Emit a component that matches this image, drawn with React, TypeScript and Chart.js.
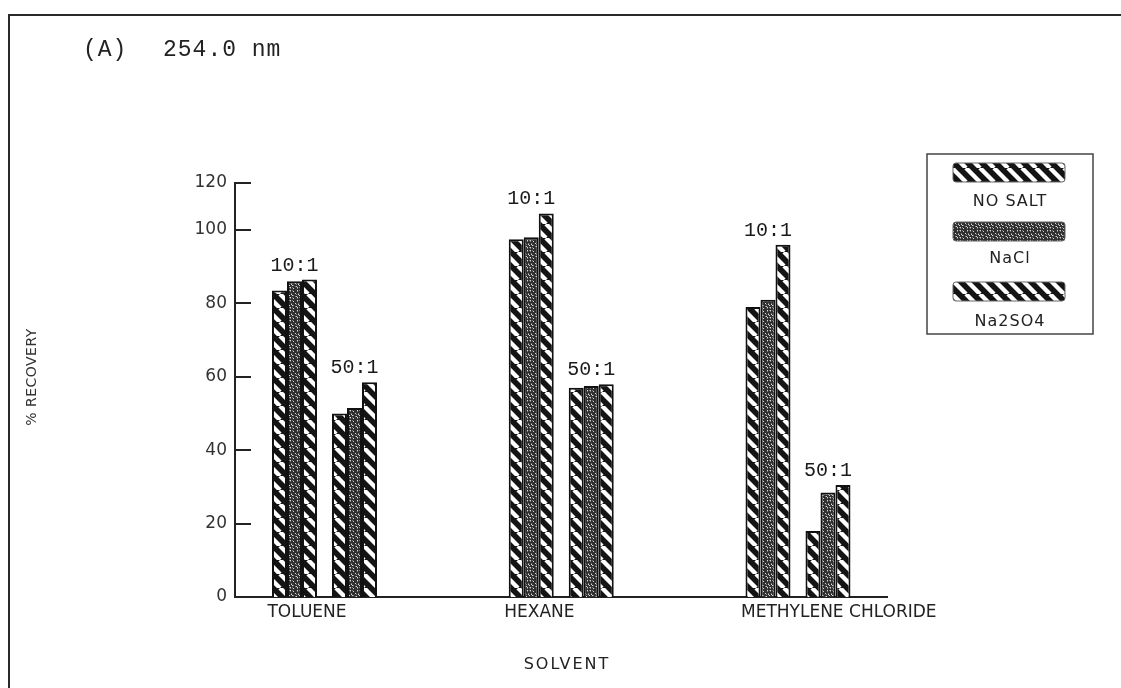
import React, { useEffect, useRef } from 'react';
import { Chart, registerables } from 'chart.js';

Chart.register(...registerables);

// ---- data ----
const SOLVENTS = ['TOLUENE', 'HEXANE', 'METHYLENE CHLORIDE'];
const SALTS = ['NO SALT', 'NaCl', 'Na2SO4'];
const RATIOS = ['10:1', '50:1'];

const NO_SALT_10 = [83.5, 97.5, 79];
const NACL_10 = [86, 98, 81];
const NA2SO4_10 = [86.5, 104.5, 96];

const NO_SALT_50 = [50, 57, 18];
const NACL_50 = [51.5, 57.5, 28.5];
const NA2SO4_50 = [58.5, 58, 30.5];

const Y_TICKS = [0, 20, 40, 60, 80, 100];
const Y_TOP_LABEL = '120';
const Y_MAX = 112.8;
const X_MIN = -0.378;
const X_MAX = 2.376;

const TITLE_A = '(A)';
const TITLE_B = '254.0 nm';
const Y_TITLE = '% RECOVERY';
const X_TITLE = 'SOLVENT';

const PLOT_FONT = '"DejaVu Sans", sans-serif';
const MONO_FONT = '"Liberation Mono", "DejaVu Sans Mono", monospace';

function makeHatch(): CanvasPattern {
  const s = 14;
  const c = document.createElement('canvas');
  c.width = s;
  c.height = s;
  const g = c.getContext('2d')!;
  g.fillStyle = '#141414';
  g.fillRect(0, 0, s, s);
  g.strokeStyle = '#ffffff';
  g.lineWidth = 4.4;
  for (const x0 of [-s, 0, s]) {
    g.beginPath();
    g.moveTo(x0, 0);
    g.lineTo(x0 + s, s);
    g.stroke();
  }
  return g.createPattern(c, 'repeat')!;
}

function makeStipple(): CanvasPattern {
  const s = 10;
  const c = document.createElement('canvas');
  c.width = s;
  c.height = s;
  const g = c.getContext('2d')!;
  g.fillStyle = '#303030';
  g.fillRect(0, 0, s, s);
  for (let x = 0; x < s; x++) {
    for (let y = 0; y < s; y++) {
      const v = (x * 5 + y * 3 + x * y) % 7;
      if (v === 0) {
        g.fillStyle = '#d8d8d8';
        g.fillRect(x, y, 1, 1);
      } else if (v === 3) {
        g.fillStyle = '#7a7a7a';
        g.fillRect(x, y, 1, 1);
      }
    }
  }
  return g.createPattern(c, 'repeat')!;
}

export default function App() {
  const ref = useRef<HTMLCanvasElement>(null);

  useEffect(() => {
    const canvas = ref.current!;
    const hatch = makeHatch();
    const stipple = makeStipple();
    const fills = [hatch, stipple, hatch];

    const toPoints = (arr: (number | null)[]) => arr.map((y, i) => ({ x: i, y }));
    const series10 = [NO_SALT_10, NACL_10, NA2SO4_10];
    const series50 = [NO_SALT_50, NACL_50, NA2SO4_50];

    const datasets: any[] = [
      ...series10.map((s, k) => ({
        label: `${SALTS[k]} ${RATIOS[0]}`,
        data: toPoints(s),
        backgroundColor: fills[k],
      })),
      { label: 'gap', data: toPoints(SOLVENTS.map(() => null)), backgroundColor: 'rgba(0,0,0,0)' },
      ...series50.map((s, k) => ({
        label: `${SALTS[k]} ${RATIOS[1]}`,
        data: toPoints(s),
        backgroundColor: fills[k],
      })),
    ];

    const decor = {
      id: 'decor',
      beforeDraw(chart: any) {
        const ctx = chart.ctx as CanvasRenderingContext2D;
        ctx.save();
        ctx.fillStyle = '#ffffff';
        ctx.fillRect(0, 0, chart.width, chart.height);
        // frame
        ctx.strokeStyle = '#2a2a2a';
        ctx.lineWidth = 2;
        ctx.beginPath();
        ctx.moveTo(9, chart.height);
        ctx.lineTo(9, 15);
        ctx.lineTo(chart.width, 15);
        ctx.stroke();
        // title
        ctx.fillStyle = '#222';
        ctx.font = `23px ${MONO_FONT}`;
        ctx.textBaseline = 'middle';
        ctx.textAlign = 'left';
        (ctx as any).letterSpacing = '1px';
        ctx.fillText(TITLE_A, 83, 50);
        ctx.fillText(TITLE_B, 163, 50);
        ctx.restore();
      },
      afterDraw(chart: any) {
        const ctx = chart.ctx as CanvasRenderingContext2D;
        const yScale = chart.scales.y;
        const area = chart.chartArea;
        ctx.save();
        // inward ticks
        ctx.strokeStyle = '#222';
        ctx.lineWidth = 2;
        for (const t of yScale.ticks) {
          if (t.value <= 0) continue;
          const py = Math.round(yScale.getPixelForValue(t.value));
          ctx.beginPath();
          ctx.moveTo(area.left, py);
          ctx.lineTo(area.left + 16, py);
          ctx.stroke();
        }
        // ratio labels
        ctx.fillStyle = '#1a1a1a';
        ctx.font = `20px ${MONO_FONT}`;
        ctx.textAlign = 'center';
        ctx.textBaseline = 'alphabetic';
        const groups = [[0, 1, 2], [4, 5, 6]];
        SOLVENTS.forEach((_, i) => {
          groups.forEach((idxs, r) => {
            let minY = Infinity;
            for (const d of idxs) {
              const el = chart.getDatasetMeta(d).data[i];
              if (el) minY = Math.min(minY, el.y);
            }
            const mid = chart.getDatasetMeta(idxs[1]).data[i];
            if (mid && isFinite(minY)) ctx.fillText(RATIOS[r], mid.x, minY - 9);
          });
        });
        // y title
        ctx.save();
        ctx.translate(32, 377);
        ctx.rotate(-Math.PI / 2);
        ctx.font = `14px ${PLOT_FONT}`;
        ctx.fillStyle = '#333';
        ctx.textAlign = 'center';
        ctx.textBaseline = 'middle';
        (ctx as any).letterSpacing = '0.5px';
        ctx.fillText(Y_TITLE, 0, 0);
        ctx.restore();
        // x title
        ctx.font = `16px ${PLOT_FONT}`;
        ctx.fillStyle = '#222';
        ctx.textAlign = 'center';
        ctx.textBaseline = 'middle';
        (ctx as any).letterSpacing = '2px';
        ctx.fillText(X_TITLE, (area.left + area.right) / 2 + 6, 665);
        (ctx as any).letterSpacing = '0px';
        // legend
        ctx.strokeStyle = '#444';
        ctx.lineWidth = 1.5;
        ctx.strokeRect(927, 154, 166, 180);
        const swY = [163, 222, 282];
        const labY = [202, 259, 322];
        SALTS.forEach((name, k) => {
          ctx.fillStyle = fills[k];
          ctx.beginPath();
          (ctx as any).roundRect(953, swY[k], 112, 19, 3);
          ctx.fill();
          ctx.strokeStyle = '#666';
          ctx.lineWidth = 1;
          ctx.stroke();
          ctx.fillStyle = '#222';
          ctx.font = `16px ${PLOT_FONT}`;
          (ctx as any).letterSpacing = '1px';
          ctx.fillText(name, 1010, labY[k]);
        });
        ctx.restore();
      },
    };

    const chart = new Chart(canvas, {
      type: 'bar',
      data: { datasets },
      options: {
        responsive: false,
        animation: false,
        devicePixelRatio: 1,
        layout: { padding: { left: 0, top: 183, right: 234, bottom: 11 } },
        plugins: {
          legend: { display: false },
          tooltip: { enabled: false },
          title: { display: false },
        },
        datasets: {
          bar: {
            categoryPercentage: 0.4435,
            barPercentage: 1,
            borderWidth: 2,
            borderColor: '#111',
            borderSkipped: 'start',
          },
        },
        scales: {
          x: {
            type: 'linear',
            min: X_MIN,
            max: X_MAX,
            offset: false,
            grid: { display: false, drawTicks: false },
            border: { display: true, color: '#222', width: 2 },
            ticks: {
              autoSkip: false,
              maxRotation: 0,
              minRotation: 0,
              align: 'start',
              labelOffset: -57,
              padding: 5,
              color: '#222',
              font: { family: PLOT_FONT, size: 17 },
              callback: (v: any) => SOLVENTS[v as number] ?? '',
            },
            afterBuildTicks: (s: any) => {
              s.ticks = SOLVENTS.map((_, i) => ({ value: i }));
            },
            afterFit: (s: any) => {
              s.height = 80;
              s.paddingLeft = 0;
              s.paddingRight = 0;
            },
          },
          y: {
            type: 'linear',
            min: 0,
            max: Y_MAX,
            grid: { display: false, drawTicks: false },
            border: { display: true, color: '#222', width: 2 },
            ticks: {
              autoSkip: false,
              padding: 8,
              color: '#333',
              font: { family: PLOT_FONT, size: 17 },
              callback: (v: any) => (v === Y_MAX ? Y_TOP_LABEL : String(v)),
            },
            afterBuildTicks: (s: any) => {
              s.ticks = [...Y_TICKS, Y_MAX].map((v) => ({ value: v }));
            },
            afterFit: (s: any) => {
              s.width = 235;
              s.paddingTop = 0;
              s.paddingBottom = 0;
            },
          },
        },
      } as any,
      plugins: [decor],
    });

    return () => chart.destroy();
  }, []);

  return (
    <canvas
      ref={ref}
      width={1121}
      height={688}
      style={{ position: 'fixed', left: 0, top: 0, width: 1121, height: 688, display: 'block' }}
    />
  );
}
